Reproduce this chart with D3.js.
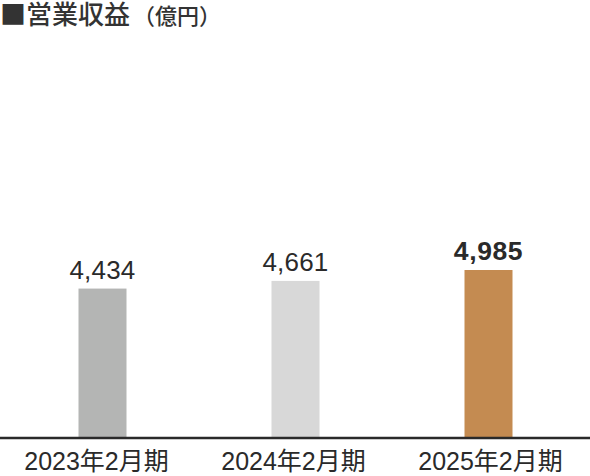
<!doctype html>
<html>
<head>
  <meta charset="UTF-8">
  <title>営業収益</title>
  <script src="https://cdn.jsdelivr.net/npm/d3@7"></script>
  <style>
    body { margin: 0; background: #fff; }
    text { font-family: "Liberation Sans", "Noto Sans CJK JP", sans-serif; }
  </style>
</head>
<body>
  <script>
    var w = 590, h = 476;
    var categories = ["2023年2月期", "2024年2月期", "2025年2月期"];
    var values = [4434, 4661, 4985];
    var colors = ["#b4b5b4", "#d8d8d8", "#c48b51"];
    var yTicks = [0, 5000];

    var svg = d3.select("body").append("svg")
      .attr("width", w)
      .attr("height", h);

    var x = d3.scaleBand().domain(categories).range([6, 585]);
    // category labels sit on a slightly wider grid than the bars
    var xl = d3.scaleBand().domain(categories).range([-2, 589]);
    var y = d3.scaleLinear().domain(yTicks).range([438, 269.5]);
    var barW = 48;

    // title
    var title = svg.append("text")
      .attr("x", 0)
      .attr("y", 24)
      .attr("fill", "#333")
      .style("font-family", "'Noto Sans CJK JP', sans-serif")
      .style("font-weight", 500);
    title.append("tspan")
      .style("font-size", "26px")
      .text("■営業収益");
    title.append("tspan")
      .style("font-size", "22px")
      .attr("dx", 3)
      .text("（億円）");

    svg.selectAll("rect.bar")
      .data(values)
      .enter().append("rect")
      .attr("class", "bar")
      .attr("x", function(d, i) { return x(categories[i]) + x.bandwidth() / 2 - barW / 2; })
      .attr("y", function(d) { return y(d); })
      .attr("width", barW)
      .attr("height", function(d) { return y(0) - y(d); })
      .attr("fill", function(d, i) { return colors[i]; });

    svg.selectAll("text.val")
      .data(values)
      .enter().append("text")
      .attr("class", "val")
      .attr("x", function(d, i) { return x(categories[i]) + x.bandwidth() / 2; })
      .attr("y", function(d) { return y(d) - 10; })
      .attr("text-anchor", "middle")
      .attr("font-size", function(d, i) { return i == 2 ? 26.5 : 26; })
      .attr("font-weight", function(d, i) { return i == 2 ? "bold" : "normal"; })
      .attr("letter-spacing", function(d, i) { return i == 2 ? 0.6 : 0.2; })
      .attr("fill", "#2a2a2a")
      .text(function(d) { return d3.format(",")(d); });

    var axis = d3.axisBottom(xl).tickSize(0).tickPadding(14);
    var g = svg.append("g")
      .attr("transform", "translate(0," + y(0) + ")")
      .call(axis);
    g.select(".domain").remove();
    g.append("line")
      .attr("x1", 0).attr("x2", w)
      .attr("y1", 0).attr("y2", 0)
      .attr("stroke", "#2a2a2a")
      .attr("stroke-width", 2.5);
    g.selectAll(".tick text")
      .attr("font-size", 25)
      .style("font-family", "'Liberation Sans', 'Noto Sans CJK JP', sans-serif")
      .attr("fill", "#2a2a2a");
  </script>
</body>
</html>
